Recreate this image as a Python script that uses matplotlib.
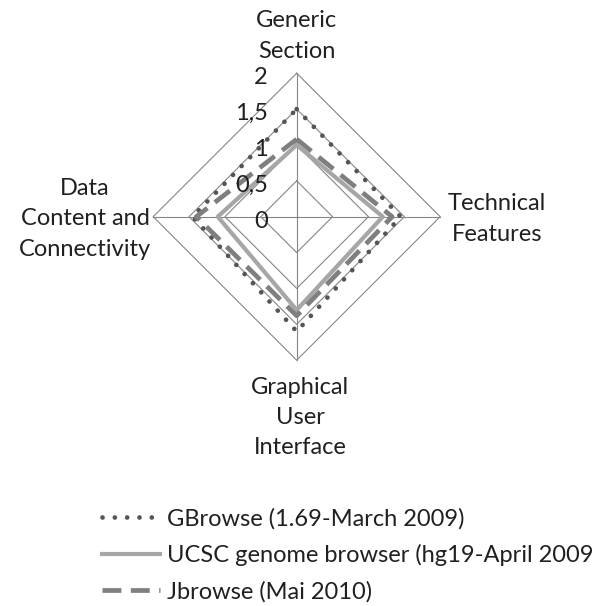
"""Radar chart: comparison of genome browsers over four feature groups."""

import matplotlib

matplotlib.use("Agg")
import matplotlib.pyplot as plt
import numpy as np

plt.rcParams["font.family"] = ["Lato", "DejaVu Sans"]

categories = [
    "Generic\nSection",
    "Technical\nFeatures",
    "Graphical\nUser\nInterface",
    "Data\nContent and\nConnectivity",
]
series_names = [
    "GBrowse (1.69-March 2009)",
    "UCSC genome browser (hg19-April 2009",
    "Jbrowse (Mai 2010)",
]
gbrowse = [1.5, 1.45, 1.6, 1.45]
ucsc = [1.0, 1.2, 1.3, 1.1]
jbrowse = [1.08, 1.33, 1.38, 1.4]
grid_values = [0.5, 1.0, 1.5, 2.0]
tick_values = [0, 0.5, 1, 1.5, 2]
tick_labels = ["0", "0,5", "1", "1,5", "2"]

GRID = "#868686"
FS = 17

# clockwise from the top
angles = np.arange(len(categories)) * 2 * np.pi / len(categories)


def to_xy(values):
    v = np.asarray(values, dtype=float)
    x = v * np.sin(angles)
    y = v * np.cos(angles)
    return np.append(x, x[0]), np.append(y, y[0])


fig = plt.figure(figsize=(6.01, 6.06), dpi=100)
L = 2.5
ax = fig.add_axes([0.1952, 0.3464, 0.5969, 0.592])
ax.set_xlim(-L, L)
ax.set_ylim(-L, L)
ax.set_aspect("equal")
ax.axis("off")

# diamond grid and spokes
for g in grid_values:
    gx, gy = to_xy([g] * len(categories))
    ax.plot(gx, gy, color=GRID, lw=0.8, zorder=1)
for a in angles:
    ax.plot([0, 2 * np.sin(a)], [0, 2 * np.cos(a)], color=GRID, lw=0.8, zorder=1)

styles = [
    dict(color="#555555", lw=3.4, linestyle=(0, (0.01, 2.6)), dash_capstyle="round"),
    dict(color="#a6a6a6", lw=3.0, linestyle="-"),
    dict(color="#7f7f7f", lw=3.4, linestyle=(0, (4, 2))),
]
handles = []
for vals, name, st in zip([gbrowse, ucsc, jbrowse], series_names, styles):
    px, py = to_xy(vals)
    (ln,) = ax.plot(px, py, label=name, zorder=3, **st)
    handles.append(ln)

for v, lab in zip(tick_values, tick_labels):
    ax.text(-0.40, v - 0.06, lab, ha="right", va="center", fontsize=FS,
            color="#202020", zorder=4)

label_pos = [(0.0, 2.52), (2.79, -0.03), (0.05, -2.8), (-2.95, -0.03)]
for (lx, ly), cat in zip(label_pos, categories):
    ax.text(lx, ly, cat, ha="center", va="center", fontsize=FS,
            linespacing=1.55, color="#202020", clip_on=False)

fig.legend(
    handles=handles,
    labels=series_names,
    loc="upper left",
    bbox_to_anchor=(102 / 601, 1 - 508 / 606),
    frameon=False,
    fontsize=FS,
    handlelength=2.45,
    handletextpad=0.3,
    labelspacing=0.62,
    borderaxespad=0,
    borderpad=0,
    labelcolor="#202020",
)

fig.savefig("out.png", dpi=100)
